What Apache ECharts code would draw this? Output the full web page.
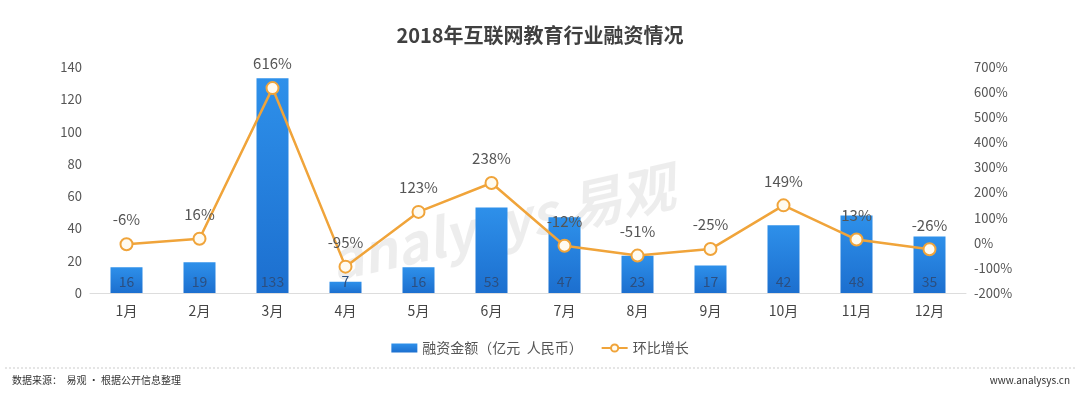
<!DOCTYPE html>
<html><head><meta charset="utf-8">
<script src="https://cdn.jsdelivr.net/npm/echarts@6/dist/echarts.min.js"></script>
<style>html,body{margin:0;padding:0;background:#fff}#c{width:1080px;height:395px}</style>
</head><body><div id="c"></div>
<script>
var categories = ['1月','2月','3月','4月','5月','6月','7月','8月','9月','10月','11月','12月'];
var amounts = [16,19,133,7,16,53,47,23,17,42,48,35];
var growth = [-6,16,616,-95,123,238,-12,-51,-25,149,13,-26];
var leftTicks = {min:0,max:140,interval:20};
var rightTicks = {min:-200,max:700,interval:100};

var chart = echarts.init(document.getElementById('c'));
var font = '"Noto Sans CJK SC","Noto Sans",sans-serif';
chart.setOption({
  animation:false,
  textStyle:{fontFamily:font},
  title:{text:'2018年互联网教育行业融资情况',left:'center',top:20,
    textStyle:{fontSize:20,fontWeight:'bold',color:'#404040',fontFamily:font}},
  legend:{bottom:35,left:'center',itemWidth:26,itemHeight:9,itemGap:18,
    textStyle:{fontSize:14,color:'#555',fontFamily:font},
    data:[{name:'融资金额（亿元  人民币）',icon:'rect'},{name:'环比增长'}]},
  grid:{left:90,right:114,top:67,bottom:102},
  xAxis:{type:'category',data:categories,
    axisLine:{lineStyle:{color:'#ddd'}},axisTick:{show:false},
    axisLabel:{fontSize:14,color:'#444',margin:11}},
  yAxis:[
    {type:'value',min:leftTicks.min,max:leftTicks.max,interval:leftTicks.interval,
      splitLine:{show:false},axisLine:{show:false},axisTick:{show:false},
      axisLabel:{fontSize:13,color:'#555',margin:8}},
    {type:'value',min:rightTicks.min,max:rightTicks.max,interval:rightTicks.interval,
      splitLine:{show:false},axisLine:{show:false},axisTick:{show:false},
      axisLabel:{fontSize:13,color:'#555',formatter:'{value}%',margin:8}}
  ],
  series:[
    {name:'融资金额（亿元  人民币）',type:'bar',data:amounts,barWidth:32,
      itemStyle:{color:new echarts.graphic.LinearGradient(0,0,0,1,[{offset:0,color:'#2e90ea'},{offset:1,color:'#1c6fcf'}])},
      label:{show:true,position:'insideBottom',distance:4,fontSize:14,color:'#2c4f80'}},
    {name:'环比增长',type:'line',yAxisIndex:1,data:growth,
      symbol:'circle',symbolSize:12,
      lineStyle:{color:'#f0a43a',width:2.5},
      itemStyle:{color:'#fffbf0',borderColor:'#f0a43a',borderWidth:2},
      label:{show:true,position:'top',distance:10,fontSize:15,color:'#555',formatter:'{c}%'}}
  ],
  graphic:[
    {type:'text',x:325,y:235,rotation:0.22,z:-10,
      style:{text:'analysys 易观',fontSize:54,fontWeight:'bold',fontStyle:'italic',fill:'rgba(0,0,0,0.07)',fontFamily:font}},
    {type:'line',shape:{x1:5,y1:368,x2:1075,y2:368},style:{stroke:'#ccc',lineWidth:1,lineDash:[2,2]}},
    {type:'text',left:12,top:375,style:{text:'数据来源：  易观 · 根据公开信息整理',fontSize:10,fill:'#333',fontFamily:font}},
    {type:'text',right:10,top:375,style:{text:'www.analysys.cn',fontSize:10,fill:'#333',fontFamily:font}}
  ]
});
</script></body></html>
